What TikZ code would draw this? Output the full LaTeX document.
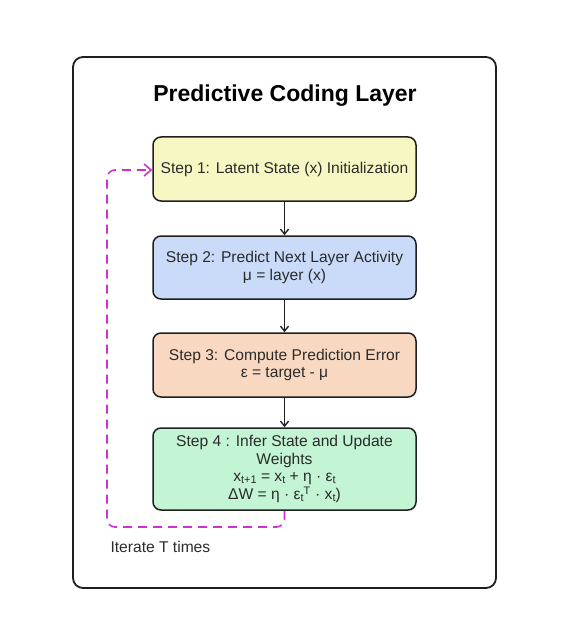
\documentclass[tikz,border=0pt]{standalone}
\usepackage{fontspec}
\setmainfont{Liberation Sans}
\usepackage{tikz}
\usetikzlibrary{arrows.meta}

\definecolor{stepyellow}{HTML}{F7F7C3}
\definecolor{stepblue}{HTML}{C9DBF8}
\definecolor{steppeach}{HTML}{F8D8C1}
\definecolor{stepgreen}{HTML}{C3F4D3}
\definecolor{loopmagenta}{HTML}{CC33CC}
\definecolor{inkgray}{HTML}{2B2B2B}
\newcommand{\lowsub}[1]{\raisebox{-0.25ex}{\fontsize{11}{11}\selectfont #1}}

\begin{document}
\begin{tikzpicture}[x=1pt,y=-1pt,
  stepbox/.style={draw=black!88, line width=1.5pt, rounded corners=8pt, minimum width=263pt, align=center, text=inkgray, font=\fontsize{15.6}{17.6}\selectfont},
  flow/.style={draw=black!88, line width=1.4pt, -{Straight Barb[length=5pt,width=8pt]}},
  loop/.style={draw=loopmagenta, line width=1.6pt, dash pattern=on 9pt off 6pt, rounded corners=8pt, -{Straight Barb[length=7pt,width=12pt]}}]
\useasboundingbox (0,0) rectangle (562,639);
\draw[line width=1.8pt, draw=black!88, rounded corners=10pt] (73,57) rectangle (496,588);
\node (title) at (285,96) {\fontsize{23}{26}\selectfont\bfseries Predictive Coding Layer};
% the four steps
\node[stepbox, fill=stepyellow, minimum height=64pt] (s1) at (284.5,169) {Step 1: Latent State (x) Initialization};
\node[stepbox, fill=stepblue, minimum height=63pt] (s2) at (284.5,267.5) {Step 2: Predict Next Layer Activity\\μ = layer (x)};
\node[stepbox, fill=steppeach, minimum height=64pt] (s3) at (284.5,365) {Step 3: Compute Prediction Error\\ε = target - μ};
\node[stepbox, fill=stepgreen, minimum height=82pt] (s4) at (284.5,469) {Step 4 : Infer State and Update\\Weights\\x\lowsub{t+1} = x\lowsub{t} + η · ε\lowsub{t}\\ΔW = η · ε\lowsub{t}\textsuperscript{T} · x\lowsub{t})};
\draw[flow] (s1) -- (s2);
\draw[flow] (s2) -- (s3);
\draw[flow] (s3) -- (s4);
% iteration loop
\coordinate (lb) at (284.5,527);
\coordinate (lc) at (107,527);
\coordinate (ld) at (107,170);
\draw[loop] (s4.south) -- (lb) -- (lc) -- (ld) -- (s1.west |- ld);
\node[anchor=west, text=inkgray, font=\fontsize{15.6}{17}\selectfont] (iter) at (107,547) {Iterate T times};
\end{tikzpicture}
\end{document}
